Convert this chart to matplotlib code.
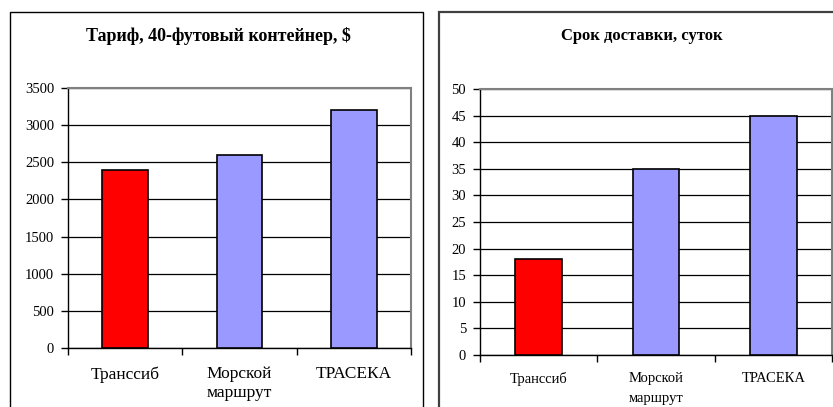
import matplotlib
matplotlib.use("Agg")
import matplotlib.pyplot as plt
from matplotlib.patches import Rectangle

plt.rcParams['font.family'] = ['Liberation Serif', 'DejaVu Serif']

# data
routes = ["Транссиб", "Морской\nмаршрут", "ТРАСЕКА"]
tariff_usd = [2400, 2600, 3200]
delivery_days = [18, 35, 45]
bar_colors = ["#FF0000", "#9999FF", "#9999FF"]

W, H = 833, 407
fig = plt.figure(figsize=(W / 100, H / 100), dpi=100)


def px_box(x0, x1, top, bottom):
    return [x0 / W, 1 - bottom / H, (x1 - x0) / W, (bottom - top) / H]


def style_axes(ax, ymax, ystep, xlab_size, ylab_size, xpad, spacing):
    ax.set_xlim(-0.5, len(routes) - 0.5)
    ax.set_ylim(0, ymax)
    ax.set_yticks(range(0, ymax + 1, ystep))
    ax.yaxis.grid(True, color="black", linewidth=0.9)
    ax.set_axisbelow(True)
    for side in ("left", "bottom"):
        ax.spines[side].set_color("black")
        ax.spines[side].set_linewidth(1.0)
    for side in ("top", "right"):
        ax.spines[side].set_color("#808080")
        ax.spines[side].set_linewidth(1.5)
    ax.set_xticks(range(len(routes)))
    ax.set_xticklabels(routes, fontsize=xlab_size, linespacing=spacing)
    ax.set_xticks([i - 0.5 for i in range(len(routes) + 1)], minor=True)
    ax.tick_params(axis="x", which="major", length=0, pad=xpad)
    ax.tick_params(axis="x", which="minor", length=5, direction="out", width=1)
    ax.tick_params(axis="y", length=5, direction="out", width=1, pad=5,
                   labelsize=ylab_size)


ax1 = fig.add_axes(px_box(68, 411, 88, 348))
ax1.bar(range(len(routes)), tariff_usd, width=0.4, color=bar_colors,
        edgecolor="black", linewidth=1.2, zorder=3)
style_axes(ax1, 3500, 500, 12.5, 10.5, 13, 1.25)

ax2 = fig.add_axes(px_box(480, 832, 89, 355))
ax2.bar(range(len(routes)), delivery_days, width=0.4, color=bar_colors,
        edgecolor="black", linewidth=1.2, zorder=3)
style_axes(ax2, 50, 5, 10.5, 10.5, 12, 1.75)

fig.text(218 / W, 1 - 36 / H, "Тариф, 40-футовый контейнер, $",
         ha="center", va="center", fontsize=13, fontweight="bold")
fig.text(642 / W, 1 - 36 / H, "Срок доставки, суток",
         ha="center", va="center", fontsize=12, fontweight="bold")

# chart frames (cut off at the bottom / right like the screenshot)
fig.add_artist(Rectangle((10 / W, -0.1), 413 / W, 1.1 - 12 / H,
                         transform=fig.transFigure, fill=False,
                         edgecolor="black", linewidth=1.0))
fig.add_artist(Rectangle((439 / W, -0.1), 0.5, 1.1 - 12 / H,
                         transform=fig.transFigure, fill=False,
                         edgecolor="#404040", linewidth=1.6))

fig.savefig("out.png", dpi=100)
